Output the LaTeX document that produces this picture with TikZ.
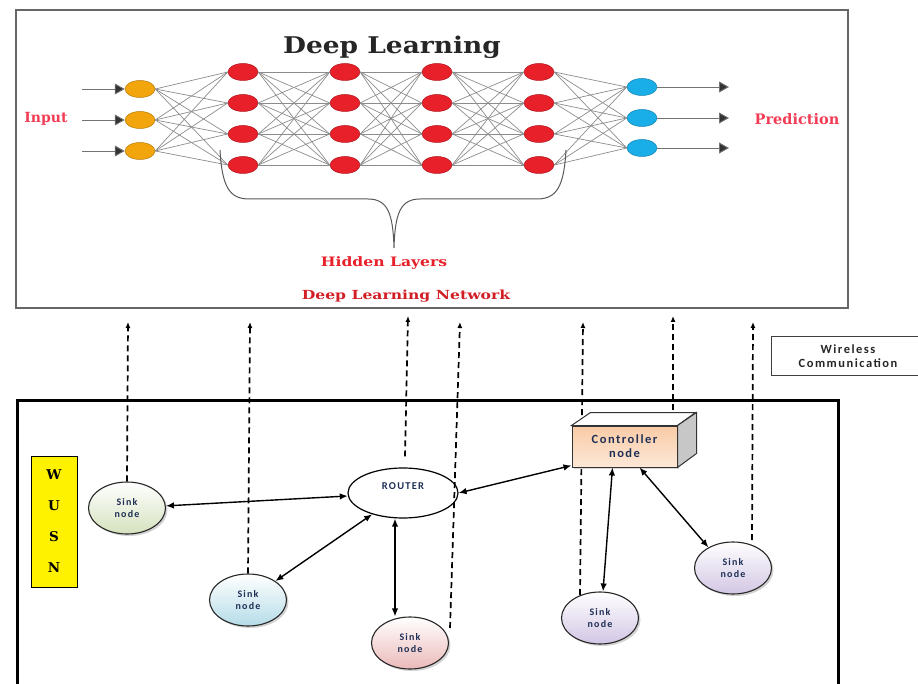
\documentclass[tikz,border=0pt]{standalone}
\usepackage{fontspec}
\setmainfont{DejaVu Serif}
\newfontfamily\calib{Carlito}
\newfontfamily\calibsp[LetterSpace=12]{Carlito}
\usetikzlibrary{shapes.geometric,arrows.meta,shadows}
\definecolor{inorange}{HTML}{F2A50C}
\definecolor{hidred}{HTML}{E8202A}
\definecolor{outblue}{HTML}{1AAEE8}
\definecolor{lblred}{HTML}{F23C55}
\definecolor{darkred}{HTML}{D11F25}
\definecolor{navy}{HTML}{1F2F55}
\definecolor{peach}{HTML}{F9CBA6}
\definecolor{sgreen}{HTML}{D5E2BE}
\definecolor{sblue}{HTML}{B5DCE8}
\definecolor{spink}{HTML}{EBB9B9}
\definecolor{slav}{HTML}{D2C6E4}
\tikzset{
  neuron/.style={ellipse, minimum width=30pt, minimum height=17pt, inner sep=0pt,
    draw=#1!75!black, fill=#1, line width=0.5pt},
  syn/.style={draw=black!45, line width=0.7pt},
  inarr/.style={draw=black!55, line width=0.9pt, -{Triangle[length=10pt,width=11pt,fill=black!80]}},
  sink/.style={ellipse, draw=black!85, line width=1.1pt, minimum width=77pt, minimum height=52pt,
    inner sep=0pt, top color=white, bottom color=#1,
    drop shadow={shadow xshift=2pt,shadow yshift=-2pt,opacity=0.35},
    font=\calibsp\bfseries\fontsize{10}{11.5}\selectfont, text=navy, align=center},
  wl/.style={dash pattern=on 6pt off 4pt, line width=1.7pt, -{Latex[length=6pt,width=5pt]}},
  link/.style={line width=1.4pt, {Latex[length=8pt,width=6.5pt]}-{Latex[length=8pt,width=6.5pt]}},
  redlbl/.style={font=\bfseries\fontsize{#1}{#1}\selectfont, text=lblred, inner sep=0pt},
}
\begin{document}
\begin{tikzpicture}[x=1pt,y=-1pt]
\useasboundingbox (0,0) rectangle (918,684);

% ---------- deep learning box ----------
\node[draw=black!60, line width=2pt, minimum width=832pt, minimum height=298pt, inner sep=0pt] (dlbox) at (432,159) {};
\node[font=\bfseries\fontsize{23}{23}\selectfont, text=black!85, inner sep=0pt] (title) at (392,47) {\scalebox{1.15}[1]{Deep Learning}};

% neurons
\foreach \k/\y in {1/89,2/120,3/151} \node[neuron=inorange] (i\k) at (140,\y) {};
\foreach \l/\x in {1/243,2/345,3/437,4/539}
  \foreach \k/\y in {1/72,2/103,3/134,4/165}
    \node[neuron=hidred] (h\l\k) at (\x,\y) {};
\foreach \k/\y in {1/87,2/118,3/148} \node[neuron=outblue] (o\k) at (642,\y) {};

% synapses
\foreach \a in {1,2,3} \foreach \b in {1,...,4} \draw[syn] (i\a.east) -- (h1\b.west);
\foreach \l/\m in {1/2,2/3,3/4}
  \foreach \a in {1,...,4} \foreach \b in {1,...,4} \draw[syn] (h\l\a.east) -- (h\m\b.west);
\foreach \a in {1,...,4} \foreach \b in {1,2,3} \draw[syn] (h4\a.east) -- (o\b.west);

% input / output arrows
\foreach \k/\y in {1/89,2/120,3/151} {
  \coordinate (ia\k) at (82,\y);
  \draw[inarr] (ia\k) -- (i\k.west);
}
\foreach \k/\y in {1/87,2/118,3/148} {
  \coordinate (oa\k) at (729,\y);
  \draw[inarr] (o\k.east) -- (oa\k);
}

\node[redlbl=14] (inp) at (46,119) {Input};
\node[redlbl=14.5] (pred) at (797,119) {Prediction};

% brace
\draw[draw=black!65, line width=1pt]
  (220,150) .. controls (222,186) and (229,199) .. (249,199) -- (368,199)
  .. controls (388,199) and (393,214) .. (394,248)
  .. controls (395,214) and (400,199) .. (420,199) -- (537,199)
  .. controls (557,199) and (564,186) .. (566,150);

\node[redlbl=13, text=hidred] (hid) at (384,263) {\scalebox{1.2}[1]{Hidden Layers}};
\node[font=\bfseries\fontsize{12.5}{13}\selectfont, text=darkred, inner sep=0pt] (dln) at (406,296) {\scalebox{1.25}[1]{Deep Learning Network}};

% ---------- wireless label ----------
\node[draw=black!75, line width=1pt, minimum width=154pt, minimum height=39pt, inner sep=0pt,
  font=\calibsp\bfseries\fontsize{12.5}{14}\selectfont, text=black!85, align=center] (wc) at (848,356)
  {Wireless\\Communication};

% ---------- WUSN box ----------
\draw[line width=3pt] (17,700) -- (17,400) -- (838,400) -- (838,700);

\node[draw=black, fill=yellow, line width=1pt, minimum width=46pt, minimum height=131pt,
  inner sep=0pt, align=center, font=\bfseries\fontsize{13.5}{31}\selectfont] (wusn) at (54,521.5)
  {W\\U\\S\\N};

% nodes
\node[sink=sgreen] (s1) at (127,508) {Sink\\node};
\node[sink=sblue] (s2) at (248,600) {Sink\\node};
\node[sink=spink] (s3) at (410,643) {Sink\\node};
\node[sink=slav] (s4) at (600,618) {Sink\\node};
\node[sink=slav] (s5) at (733,568) {Sink\\node};

\node[ellipse, draw=black, line width=1.2pt, fill=white, minimum width=110pt, minimum height=50pt,
  inner sep=0pt, font=\calibsp\bfseries\fontsize{10.5}{11}\selectfont, text=navy] (rt) at (403,493)
  {\raisebox{4pt}[0pt][0pt]{ROUTER}};

% dashed wireless links
\coordinate (w1) at (128,322);
\coordinate (w2) at (250,322);
\coordinate (w3) at (408,316);
\coordinate (w4) at (460,322);
\coordinate (w5) at (583,322);
\coordinate (w6) at (673,316);
\coordinate (w7) at (753,322);
\coordinate (d4) at (450,628);
\coordinate (d5) at (580,595);
\coordinate (d6) at (673,410);
\coordinate (d7) at (752,540);
\draw[wl] (s1.north) -- (w1);
\draw[wl] (s2.north) -- (w2);
\draw[wl] ([xshift=2pt,yshift=11pt]rt.north) -- (w3);
\draw[wl] (d4) -- (w4);
\draw[wl] (d5) -- (w5);
\draw[wl] (d6) -- (w6);
\draw[wl] (d7) -- (w7);

% controller node (3D box)
\node[draw=black!80, line width=1pt, minimum width=105pt, minimum height=41pt, inner sep=0pt,
  top color=peach, bottom color=peach!45, align=center,
  font=\calibsp\bfseries\fontsize{12.5}{14}\selectfont, text=navy,
  drop shadow={shadow xshift=2pt,shadow yshift=-2pt,opacity=0.3}] (ctrl) at (624.5,446.5)
  {Controller\\node};
\filldraw[fill=white, draw=black!80, line width=1pt]
  (ctrl.north west) -- ++(19,-13) -- ++(105,0) -- (ctrl.north east) -- cycle;
\filldraw[fill=black!22, draw=black!80, line width=1pt]
  (ctrl.north east) -- ++(19,-13) -- ++(0,41) -- (ctrl.south east) -- cycle;

% wired links
\draw[link] (s1) -- (rt);
\draw[link] (rt) -- (s2);
\draw[link] ([xshift=-8pt]rt.south) -- ([xshift=-15pt]s3.north);
\draw[link] (rt.east) -- ([yshift=2pt]ctrl.south west);
\draw[link] ([xshift=-12pt]ctrl.south) -- ([xshift=3pt]s4.north);
\draw[link] ([xshift=15pt]ctrl.south) -- (s5.140);
\end{tikzpicture}
\end{document}
